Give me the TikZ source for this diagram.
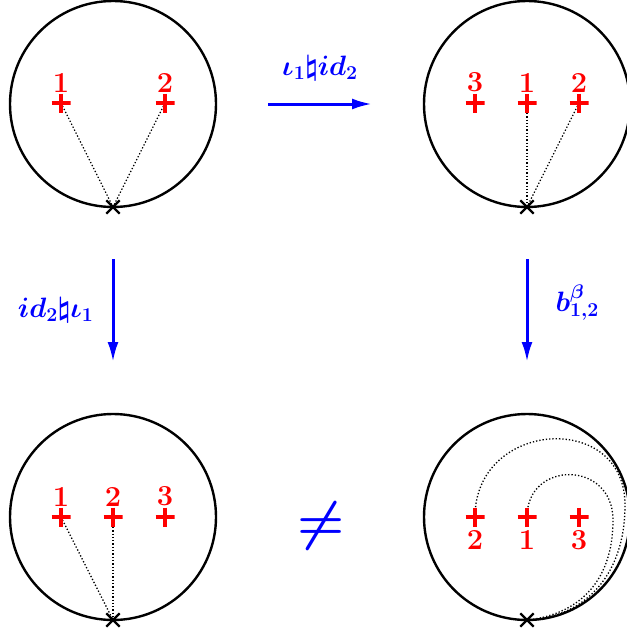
\RequirePackage{fix-cm}
\documentclass[tikz,border=0pt]{standalone}
\usepackage{bm}
\usetikzlibrary{arrows.meta,shapes.misc,backgrounds}

\begin{document}
\begin{tikzpicture}[
  x=1pt,y=-1pt,
  disk/.style={draw,circle,line width=2.4pt,minimum size=206pt,inner sep=0pt,outer sep=0pt},
  pt/.style={inner sep=0pt,minimum size=19pt,
    path picture={\draw[red,line width=4.5pt]
      (path picture bounding box.north) -- (path picture bounding box.south)
      (path picture bounding box.west) -- (path picture bounding box.east);}},
  num/.style={font=\fontsize{29}{30}\selectfont\bfseries,text=red,inner sep=0pt,label distance=1pt},
  base/.style={draw,cross out,line width=2.3pt,minimum size=11pt,inner sep=0pt},
  strand/.style={dotted,line width=1.3pt},
  arr/.style={-{Latex[length=20pt,width=11pt]},blue,line width=3pt,shorten <=52pt,shorten >=52pt},
  lbl/.style={text=blue,inner sep=0pt,font=\fontsize{28}{30}\selectfont}]
\useasboundingbox (0,0) rectangle (626,634);

% ---------- top left: two points ----------
\node[disk] (tl) at (113,104) {};
\node[base] (xtl) at (tl.south) {};
\node[pt,label={[num]above:1}] (tl1) at (61,103) {};
\node[pt,label={[num]above:2}] (tl2) at (165,103) {};

% ---------- top right: three points ----------
\node[disk] (tr) at (527,104) {};
\node[base] (xtr) at (tr.south) {};
\node[pt,label={[num]above:3}] (tr3) at (475,103) {};
\node[pt,label={[num]above:1}] (tr1) at (527,103) {};
\node[pt,label={[num]above:2}] (tr2) at (579,103) {};

% ---------- bottom left ----------
\node[disk] (bl) at (113,517) {};
\node[base] (xbl) at (bl.south) {};
\node[pt,label={[num]above:1}] (bl1) at (61,517) {};
\node[pt,label={[num]above:2}] (bl2) at (113,517) {};
\node[pt,label={[num]above:3}] (bl3) at (165,517) {};

% ---------- bottom right: after the braid ----------
\node[disk] (br) at (527,517) {};
\node[base] (xbr) at (br.south) {};
\node[pt,label={[num,label distance=4pt]below:2}] (br2) at (475,517) {};
\node[pt,label={[num,label distance=4pt]below:1}] (br1) at (527,517) {};
\node[pt,label={[num,label distance=4pt]below:3}] (br3) at (579,517) {};

% paths to the base point
\begin{scope}[on background layer]
\draw[strand] (tl1.center) -- (xtl.center);
\draw[strand] (tl2.center) -- (xtl.center);
\draw[strand] (tr1.center) -- (xtr.center);
\draw[strand] (tr2.center) -- (xtr.center);
\draw[strand] (bl1.center) -- (xbl.center);
\draw[strand] (bl2.center) -- (xbl.center);
\draw[strand] (br2.center) .. controls (475,420) and (625,410) .. (625,505)
  .. controls (625,580) and (580,618) .. (xbr.center);
\draw[strand] (br1.center) .. controls (527,460) and (613,460) .. (613,520)
  .. controls (613,585) and (575,615) .. (xbr.center);
\end{scope}

% maps
\draw[arr] (tl) -- node[lbl,above=22pt] (f1) {$\bm{\iota_1\natural id_2}$} (tr);
\draw[arr] (tl) -- node[lbl,left=18pt] (f2) {$\bm{id_2\natural\iota_1}$} (bl);
\draw[arr] (tr) -- node[lbl,right=27pt,yshift=8pt] (f3) {$\bm{b^{\beta}_{1,2}}$} (br);
\node[text=blue,inner sep=0pt,font=\fontsize{54}{60}\selectfont] (neq) at (321,526) {$\bm{\neq}$};
\end{tikzpicture}
\end{document}
